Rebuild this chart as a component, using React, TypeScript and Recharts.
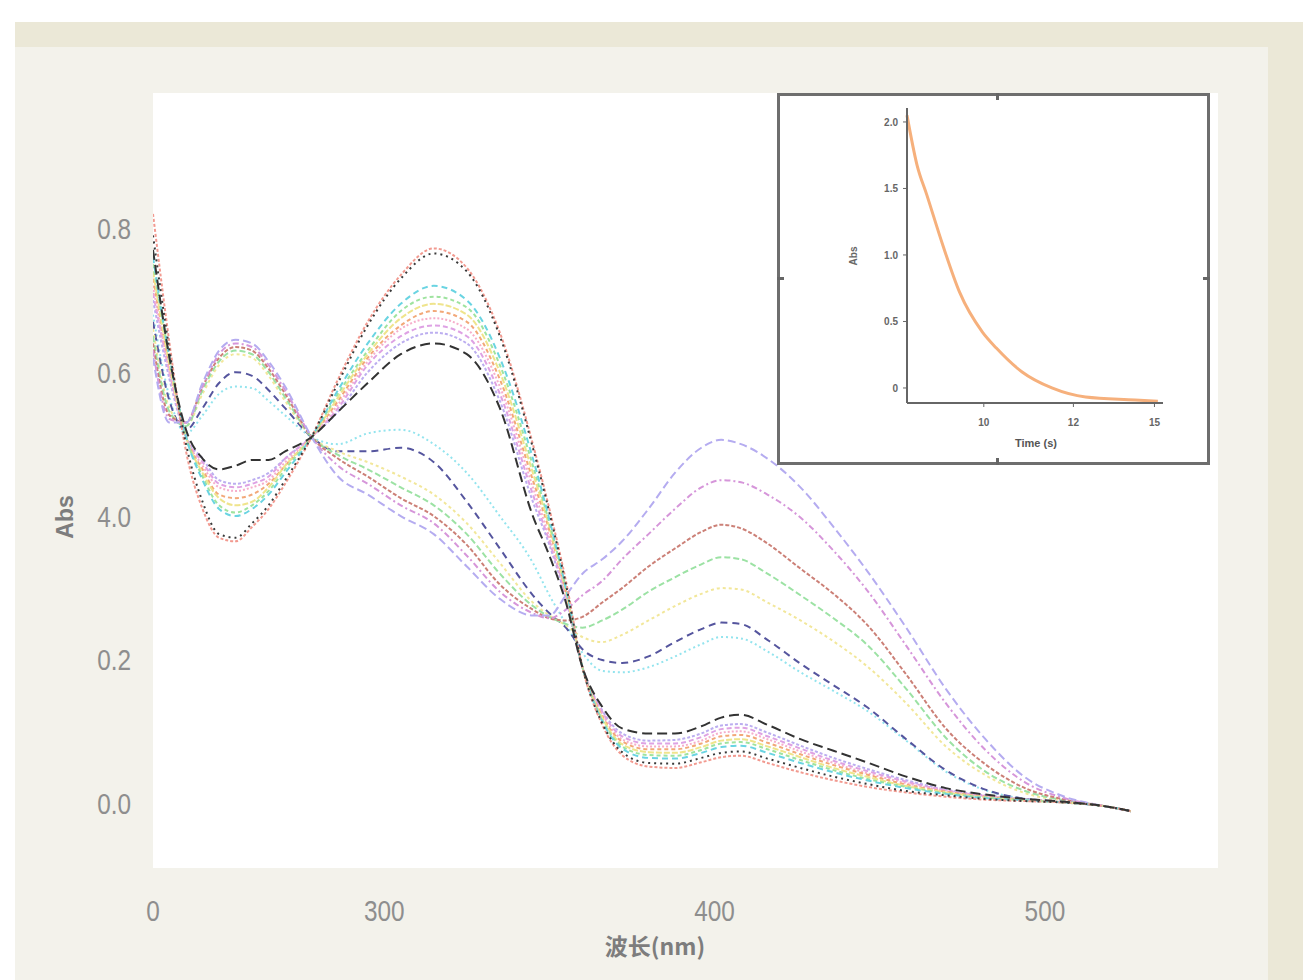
import { CartesianGrid, Label, Line, LineChart, XAxis, YAxis } from "recharts";

// wavelength grid (nm) shared by all spectra
const wavelength = [230, 235, 240, 245, 250, 255, 260, 265, 270, 278, 286, 295, 305, 315, 325, 335, 345, 350, 355, 360, 366, 372, 380, 388, 396, 402, 408, 416, 426, 436, 446, 458, 470, 482, 494, 506, 518, 526];

// early spectra: strong band near 315 nm
const early01 = [0.82, 0.64, 0.49, 0.41, 0.37, 0.365, 0.385, 0.41, 0.445, 0.51, 0.59, 0.67, 0.735, 0.772, 0.745, 0.655, 0.5, 0.41, 0.31, 0.19, 0.11, 0.068, 0.052, 0.05, 0.058, 0.065, 0.067, 0.057, 0.044, 0.033, 0.024, 0.016, 0.01, 0.006, 0.004, 0.002, -0.003, -0.01];
const early02 = [0.79, 0.63, 0.5, 0.42, 0.375, 0.37, 0.39, 0.415, 0.45, 0.51, 0.585, 0.665, 0.73, 0.765, 0.74, 0.65, 0.495, 0.405, 0.305, 0.19, 0.112, 0.072, 0.057, 0.056, 0.064, 0.071, 0.073, 0.063, 0.05, 0.038, 0.028, 0.018, 0.012, 0.007, 0.004, 0.002, -0.003, -0.01];
const early03 = [0.76, 0.62, 0.51, 0.45, 0.41, 0.4, 0.41, 0.43, 0.46, 0.51, 0.575, 0.64, 0.695, 0.72, 0.7, 0.62, 0.48, 0.395, 0.3, 0.19, 0.115, 0.077, 0.064, 0.063, 0.071, 0.079, 0.081, 0.071, 0.057, 0.044, 0.033, 0.022, 0.014, 0.008, 0.005, 0.002, -0.003, -0.01];
const early04 = [0.75, 0.62, 0.51, 0.455, 0.415, 0.405, 0.415, 0.435, 0.465, 0.51, 0.57, 0.63, 0.685, 0.705, 0.69, 0.61, 0.47, 0.39, 0.3, 0.19, 0.117, 0.08, 0.068, 0.067, 0.075, 0.084, 0.086, 0.076, 0.061, 0.047, 0.035, 0.024, 0.015, 0.009, 0.005, 0.002, -0.003, -0.01];
const early05 = [0.74, 0.61, 0.51, 0.46, 0.425, 0.415, 0.42, 0.44, 0.47, 0.51, 0.565, 0.625, 0.675, 0.695, 0.68, 0.6, 0.46, 0.385, 0.295, 0.19, 0.12, 0.083, 0.072, 0.071, 0.079, 0.088, 0.09, 0.08, 0.065, 0.05, 0.038, 0.025, 0.016, 0.009, 0.005, 0.002, -0.003, -0.01];
const early06 = [0.73, 0.61, 0.51, 0.465, 0.43, 0.425, 0.43, 0.445, 0.47, 0.51, 0.56, 0.62, 0.665, 0.685, 0.67, 0.59, 0.45, 0.38, 0.295, 0.19, 0.122, 0.087, 0.076, 0.076, 0.084, 0.094, 0.096, 0.085, 0.069, 0.054, 0.041, 0.027, 0.017, 0.01, 0.006, 0.002, -0.003, -0.01];
const early07 = [0.72, 0.6, 0.51, 0.47, 0.44, 0.435, 0.44, 0.45, 0.475, 0.51, 0.555, 0.615, 0.66, 0.675, 0.66, 0.58, 0.44, 0.37, 0.29, 0.19, 0.125, 0.09, 0.08, 0.08, 0.088, 0.099, 0.101, 0.09, 0.073, 0.057, 0.043, 0.029, 0.018, 0.011, 0.006, 0.002, -0.003, -0.01];
const early08 = [0.71, 0.6, 0.51, 0.475, 0.445, 0.44, 0.445, 0.455, 0.48, 0.51, 0.55, 0.61, 0.65, 0.665, 0.65, 0.57, 0.43, 0.365, 0.29, 0.19, 0.128, 0.094, 0.084, 0.084, 0.093, 0.104, 0.106, 0.094, 0.077, 0.06, 0.046, 0.031, 0.019, 0.011, 0.006, 0.002, -0.003, -0.01];
const early09 = [0.7, 0.59, 0.51, 0.48, 0.45, 0.445, 0.45, 0.46, 0.48, 0.51, 0.545, 0.6, 0.64, 0.655, 0.64, 0.56, 0.42, 0.36, 0.285, 0.19, 0.13, 0.098, 0.088, 0.089, 0.098, 0.109, 0.111, 0.099, 0.081, 0.064, 0.049, 0.033, 0.02, 0.012, 0.007, 0.003, -0.003, -0.01];
const early10 = [0.77, 0.62, 0.52, 0.48, 0.465, 0.47, 0.478, 0.478, 0.49, 0.51, 0.545, 0.585, 0.625, 0.64, 0.625, 0.55, 0.4, 0.345, 0.28, 0.19, 0.135, 0.105, 0.098, 0.098, 0.108, 0.12, 0.124, 0.11, 0.09, 0.074, 0.058, 0.038, 0.022, 0.013, 0.007, 0.003, -0.003, -0.01];

// late spectra: band near 400 nm grows
const late01 = [0.62, 0.53, 0.53, 0.585, 0.63, 0.645, 0.64, 0.615, 0.58, 0.51, 0.455, 0.43, 0.4, 0.375, 0.33, 0.285, 0.262, 0.262, 0.29, 0.32, 0.34, 0.365, 0.41, 0.46, 0.495, 0.506, 0.5, 0.48, 0.44, 0.385, 0.325, 0.245, 0.16, 0.09, 0.037, 0.01, -0.003, -0.01];
const late02 = [0.63, 0.535, 0.53, 0.58, 0.625, 0.64, 0.635, 0.61, 0.575, 0.51, 0.47, 0.445, 0.415, 0.39, 0.345, 0.295, 0.265, 0.258, 0.27, 0.29, 0.31, 0.34, 0.375, 0.41, 0.44, 0.45, 0.447, 0.43, 0.398, 0.352, 0.298, 0.22, 0.14, 0.075, 0.03, 0.008, -0.003, -0.01];
const late03 = [0.64, 0.54, 0.53, 0.58, 0.62, 0.635, 0.63, 0.605, 0.57, 0.51, 0.48, 0.455, 0.425, 0.4, 0.36, 0.305, 0.27, 0.258, 0.255, 0.26, 0.28, 0.3, 0.33, 0.355, 0.378, 0.388, 0.383, 0.362, 0.327, 0.292, 0.25, 0.18, 0.105, 0.055, 0.022, 0.006, -0.003, -0.01];
const late04 = [0.65, 0.545, 0.525, 0.575, 0.615, 0.63, 0.625, 0.6, 0.565, 0.51, 0.485, 0.465, 0.44, 0.415, 0.375, 0.32, 0.275, 0.26, 0.25, 0.245, 0.255, 0.27, 0.295, 0.315, 0.333, 0.343, 0.34, 0.32, 0.29, 0.258, 0.222, 0.16, 0.092, 0.045, 0.018, 0.005, -0.003, -0.01];
const late05 = [0.66, 0.55, 0.525, 0.57, 0.61, 0.625, 0.62, 0.595, 0.56, 0.51, 0.49, 0.475, 0.455, 0.43, 0.39, 0.335, 0.28, 0.262, 0.248, 0.232, 0.225, 0.235, 0.255, 0.275, 0.292, 0.3, 0.298, 0.28, 0.255, 0.226, 0.192, 0.14, 0.08, 0.04, 0.015, 0.004, -0.003, -0.01];
const late06 = [0.67, 0.56, 0.52, 0.55, 0.585, 0.6, 0.595, 0.575, 0.55, 0.51, 0.49, 0.49, 0.495, 0.475, 0.42, 0.355, 0.29, 0.265, 0.245, 0.215, 0.2, 0.196, 0.205, 0.225, 0.243, 0.252, 0.25, 0.228, 0.195, 0.165, 0.135, 0.09, 0.047, 0.02, 0.007, 0.002, -0.003, -0.01];
const late07 = [0.68, 0.565, 0.515, 0.54, 0.57, 0.58, 0.578, 0.56, 0.54, 0.51, 0.5, 0.515, 0.52, 0.5, 0.46, 0.4, 0.335, 0.29, 0.25, 0.21, 0.185, 0.183, 0.19, 0.205, 0.222, 0.232, 0.23, 0.212, 0.183, 0.157, 0.13, 0.088, 0.045, 0.019, 0.007, 0.002, -0.003, -0.01];

const xTicks = [230, 300, 400, 500];
const xTickLabels = ["0", "300", "400", "500"];
const yTicks = [0, 0.2, 0.4, 0.6, 0.8];
const yTickLabels = ["0.0", "0.2", "4.0", "0.6", "0.8"];

// inset: decay trace
const insetTime = [0, 1.16, 2.33, 4.19, 6.16, 8.84, 10.47, 13.49, 16.98, 20.93, 26.74, 29.4];
const insetAbs = [2.05, 1.68, 1.45, 1.075, 0.72, 0.42, 0.3, 0.12, 0, -0.068, -0.09, -0.1];
const insetXTicks = [9, 19.5, 29];
const insetXTickLabels = ["10", "12", "15"];
const insetYTicks = [0, 0.5, 1, 1.5, 2];
const insetYTickLabels = ["0", "0.5", "1.0", "1.5", "2.0"];

const lines = [
  { key: "l07", values: late07, color: "#93e4ee", dash: "2 3" },
  { key: "l06", values: late06, color: "#55559e", dash: "7 5" },
  { key: "l05", values: late05, color: "#f2e79a", dash: "3 3" },
  { key: "l04", values: late04, color: "#9ce2a4", dash: "6 3" },
  { key: "l03", values: late03, color: "#cc8077", dash: "4 2" },
  { key: "l02", values: late02, color: "#d696da", dash: "6 3 2 3" },
  { key: "l01", values: late01, color: "#b5acf0", dash: "8 4" },
  { key: "e09", values: early09, color: "#bcaef0", dash: "3 2" },
  { key: "e08", values: early08, color: "#dea2e4", dash: "5 3" },
  { key: "e07", values: early07, color: "#f6aecb", dash: "2 2" },
  { key: "e06", values: early06, color: "#f2a878", dash: "4 3" },
  { key: "e05", values: early05, color: "#efe48c", dash: "6 2" },
  { key: "e04", values: early04, color: "#9fe39f", dash: "4 3" },
  { key: "e03", values: early03, color: "#6ad4e2", dash: "6 4" },
  { key: "e01", values: early01, color: "#f29a90", dash: "3 2" },
  { key: "e02", values: early02, color: "#3a3a3a", dash: "2 4" },
  { key: "e10", values: early10, color: "#333333", dash: "10 5" },
];

const spectra = wavelength.map((nm, i) => {
  const row: Record<string, number> = { nm };
  lines.forEach((l) => {
    row[l.key] = l.values[i];
  });
  return row;
});

const decay = insetTime.map((t, i) => ({ t, abs: insetAbs[i] }));

const tickFont = "'Liberation Sans', Arial, sans-serif";

// narrow grey digits like the original scan
function NarrowTick(props: any) {
  const { x, y, payload, ticks, labels, anchor, dy } = props;
  const text = labels[ticks.indexOf(payload.value)] ?? "";
  return (
    <g transform={`translate(${x},${y})`}>
      <text x={0} y={0} dy={dy} textAnchor={anchor} fontSize={29} fill="#8e8e8e" fontFamily={tickFont} transform="scale(0.84,1)">
        {text}
      </text>
    </g>
  );
}

function FrameTick({ left, top, w, h }: { left: number; top: number; w: number; h: number }) {
  return <div style={{ position: "absolute", left, top, width: w, height: h, background: "#666" }} />;
}

function Inset() {
  return (
    <>
      <div
        style={{
          position: "absolute",
          left: 777,
          top: 93,
          width: 433,
          height: 372,
          border: "3px solid #6e6e6e",
          boxSizing: "border-box",
          background: "#fff",
        }}
      >
        <LineChart width={427} height={366} data={decay} margin={{ top: 12, right: 44, bottom: 0, left: 0 }}>
          <XAxis
            type="number"
            dataKey="t"
            domain={[0, 30]}
            ticks={insetXTicks}
            tickFormatter={(v) => insetXTickLabels[insetXTicks.indexOf(v)] ?? ""}
            height={59}
            axisLine={{ stroke: "#666", strokeWidth: 2 }}
            tickLine={{ stroke: "#666" }}
            tickSize={4}
            tickMargin={12}
            tick={{ fontSize: 10, fontWeight: 700, fill: "#666", fontFamily: "Arial, sans-serif" }}
          >
            <Label
              content={() => (
                <text x={256} y={351} textAnchor="middle" fontSize={11} fontWeight={700} fill="#555" fontFamily="Arial, sans-serif">
                  Time (s)
                </text>
              )}
            />
          </XAxis>
          <YAxis
            type="number"
            domain={[-0.113, 2.105]}
            ticks={insetYTicks}
            tickFormatter={(v) => insetYTickLabels[insetYTicks.indexOf(v)] ?? ""}
            width={127}
            axisLine={{ stroke: "#666", strokeWidth: 2 }}
            tickLine={{ stroke: "#666" }}
            tickSize={4}
            tickMargin={5}
            tick={{ fontSize: 10, fontWeight: 700, fill: "#666", fontFamily: "Arial, sans-serif" }}
          >
            <Label
              content={() => (
                <text
                  x={73}
                  y={160}
                  transform="rotate(-90, 73, 160)"
                  textAnchor="middle"
                  dominantBaseline="central"
                  fontSize={10}
                  fontWeight={700}
                  fill="#666"
                  fontFamily="Arial, sans-serif"
                >
                  Abs
                </text>
              )}
            />
          </YAxis>
          <Line type="monotone" dataKey="abs" stroke="#f6b07c" strokeWidth={3} dot={false} isAnimationActive={false} />
        </LineChart>
      </div>
      <FrameTick left={996} top={93} w={3} h={7} />
      <FrameTick left={996} top={458} w={3} h={7} />
      <FrameTick left={777} top={277} w={7} h={3} />
      <FrameTick left={1203} top={277} w={7} h={3} />
    </>
  );
}

export default function App() {
  return (
    <div style={{ position: "absolute", left: 0, top: 0, width: 1303, height: 980, background: "#fff", overflow: "hidden" }}>
      <div style={{ position: "absolute", left: 15, top: 22, width: 1288, height: 958, background: "#ebe8d7" }} />
      <div style={{ position: "absolute", left: 15, top: 47, width: 1253, height: 933, background: "#f3f2eb" }} />
      <div style={{ position: "absolute", left: 0, top: 0 }}>
        <LineChart width={1303} height={980} data={spectra} margin={{ top: 93, right: 85, bottom: 0, left: 0 }}>
          <CartesianGrid fill="#ffffff" stroke="none" />
          <XAxis
            type="number"
            dataKey="nm"
            domain={[230, 552.4]}
            allowDataOverflow
            ticks={xTicks}
            height={112}
            axisLine={false}
            tickLine={false}
            tickMargin={26}
            tick={<NarrowTick ticks={xTicks} labels={xTickLabels} anchor="middle" dy="0.71em" />}
          >
            <Label
              content={() => (
                <text x={655} y={955} textAnchor="middle" fontSize={23} fontWeight={700} fill="#7d7d7d" fontFamily="'Noto Sans CJK SC', 'Liberation Sans', sans-serif">
                  波长(nm)
                </text>
              )}
            />
          </XAxis>
          <YAxis
            type="number"
            domain={[-0.089, 0.988]}
            allowDataOverflow
            ticks={yTicks}
            width={153}
            axisLine={false}
            tickLine={false}
            tickMargin={16}
            tick={<NarrowTick ticks={yTicks} labels={yTickLabels} anchor="end" dy="0.36em" />}
          >
            <Label
              content={() => (
                <text
                  x={65}
                  y={517}
                  transform="rotate(-90, 65, 517)"
                  textAnchor="middle"
                  dominantBaseline="central"
                  fontSize={23}
                  fontWeight={700}
                  fill="#7d7d7d"
                  fontFamily="'Liberation Sans', Arial, sans-serif"
                >
                  Abs
                </text>
              )}
            />
          </YAxis>
          {lines.map((l) => (
            <Line
              key={l.key}
              type="monotone"
              dataKey={l.key}
              stroke={l.color}
              strokeWidth={2}
              strokeDasharray={l.dash}
              dot={false}
              isAnimationActive={false}
            />
          ))}
        </LineChart>
      </div>
      <Inset />
    </div>
  );
}
